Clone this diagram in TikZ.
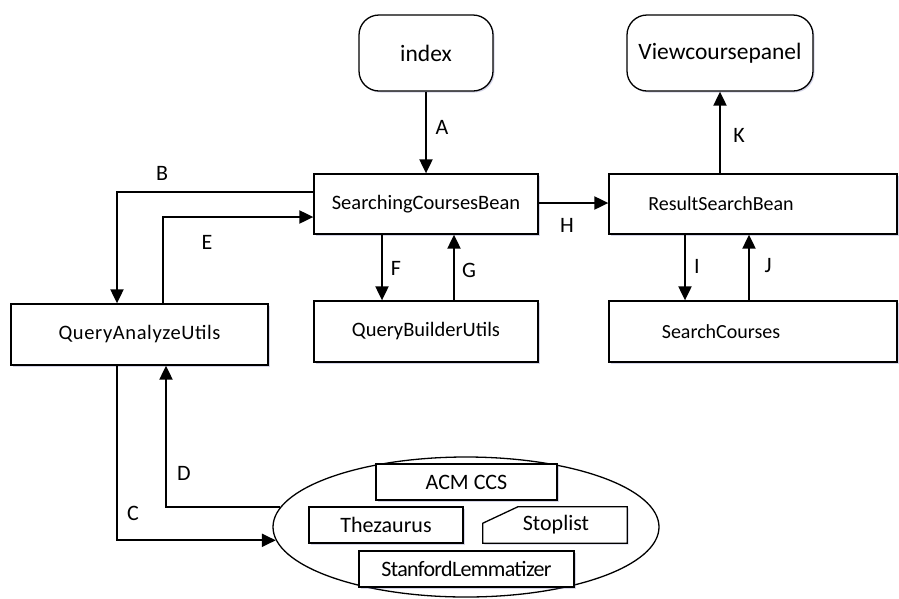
\documentclass[tikz,border=0pt]{standalone}
\usepackage{fontspec}
\setmainfont{Carlito}
\usetikzlibrary{arrows.meta,shapes.geometric,shadows}

\begin{document}
\begin{tikzpicture}[x=1pt,y=-1pt,
  softshadow/.style={drop shadow={shadow xshift=1.5pt,shadow yshift=-1.5pt,fill=blue!30!gray,opacity=0.25}},
  box/.style={draw,line width=1.3pt,rectangle,inner sep=0pt,fill=white,softshadow,
    font=\fontsize{20.5}{24}\selectfont},
  endpoint/.style={draw,line width=1.3pt,rectangle,rounded corners=20pt,inner sep=0pt,
    fill=white,softshadow,font=\fontsize{23.5}{27}\selectfont},
  store/.style={draw,line width=1.3pt,rectangle,inner sep=0pt,fill=white,softshadow,
    minimum height=36pt,font=\fontsize{22}{26}\selectfont},
  plain/.style={inner sep=0pt,font=\fontsize{20}{24}\selectfont},
  lbl/.style={inner sep=0pt,font=\fontsize{22}{26}\selectfont},
  arr/.style={line width=2pt,-{Triangle[length=14pt,width=13pt]}}
]
\useasboundingbox (0,0) rectangle (899,598);

% top-level endpoints
\node[endpoint,minimum width=134pt,minimum height=76pt] (idx) at (426,53) {index};
\node[endpoint,minimum width=186pt,minimum height=76pt] (vcp) at (720,53) {Viewcoursepanel};

% beans and utilities
\node[box,minimum width=224pt,minimum height=60pt] (scb) at (426,204) {SearchingCoursesBean};
\node[box,minimum width=288pt,minimum height=60pt] (rsb) at (753,204) {};
\node[plain] (rsbt) at (721,204) {ResultSearchBean};
\node[box,minimum width=224pt,minimum height=61pt] (qbu) at (426,331.5) {QueryBuilderUtils};
\node[box,minimum width=288pt,minimum height=61pt] (sc) at (753,331.5) {};
\node[plain] (sct) at (721,331.5) {SearchCourses};
\node[box,minimum width=257pt,minimum height=61pt] (qau) at (139.5,334.5)
  {\addfontfeature{LetterSpace=3}QueryAnalyzeUtils};

% linguistic resources
\node[draw,ellipse,line width=1.3pt,inner sep=0pt,minimum width=386pt,minimum height=140pt,fill=white] (ell) at (466,527) {};
\node[store,minimum width=181pt] (acm) at (466.5,482) {ACM CCS};
\node[store,minimum width=154pt] (thz) at (386,525) {Thezaurus};
\node[inner sep=0pt,minimum width=144pt,minimum height=36pt] (stop) at (555,525) {};
\draw[line width=1.3pt,fill=white,softshadow] (stop.south west) -- ++(0,-20) -- ([xshift=35pt]stop.north west)
  -- (stop.north east) -- (stop.south east) -- cycle;
\node[inner sep=0pt,font=\fontsize{22}{26}\selectfont] (stopt) at (556,525) {Stoplist};
\node[store,minimum width=215pt] (stan) at (466.5,569) {\addfontfeature{LetterSpace=-3}StanfordLemmatizer};

% connectors
\draw[arr] (idx.south) -- (scb.north);
\draw[arr] (rsb.north -| vcp.south) -- (vcp.south);
\draw[arr] (scb.east |- 0,203) -- (rsb.west |- 0,203);
\draw[arr] (scb.west |- 0,192) -| (qau.north -| 117,0);
\draw[arr] (qau.north -| 163,0) |- (scb.west |- 0,217);
\draw[arr] (scb.south -| 382,0) -- (qbu.north -| 382,0);
\draw[arr] (qbu.north -| 454,0) -- (scb.south -| 454,0);
\draw[arr] (rsb.south -| 685,0) -- (sc.north -| 685,0);
\draw[arr] (sc.north -| 749,0) -- (rsb.south -| 749,0);
\draw[arr] (qau.south -| 117,0) |- (ell.184.5);
\draw[arr] (ell.174.8) -| (qau.south -| 166,0);

% connector labels
\node[lbl] (lA) at (442,127) {A};
\node[lbl] (lB) at (162,173) {B};
\node[lbl] (lC) at (133,513) {C};
\node[lbl] (lD) at (184,473) {D};
\node[lbl] (lE) at (207,242) {E};
\node[lbl] (lF) at (396,268) {F};
\node[lbl] (lG) at (469,270) {G};
\node[lbl] (lH) at (567,225) {H};
\node[lbl] (lI) at (697,266) {I};
\node[lbl] (lJ) at (768,266) {J};
\node[lbl] (lK) at (739,135) {K};
\end{tikzpicture}
\end{document}
